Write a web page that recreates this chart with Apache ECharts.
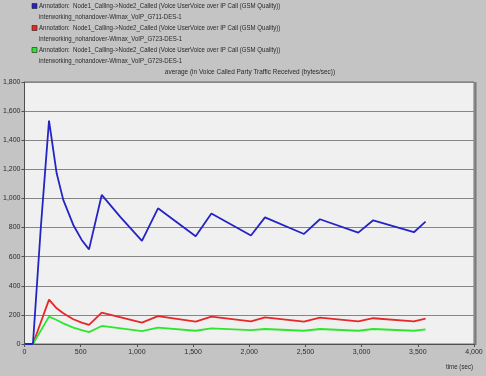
<!DOCTYPE html>
<html>
<head>
<meta charset="utf-8">
<script src="https://cdn.jsdelivr.net/npm/echarts@6/dist/echarts.min.js"></script>
<style>
html,body{margin:0;padding:0;background:#c4c4c4;}
#chart{width:486px;height:376px;}
</style>
</head>
<body>
<div id="chart"></div>
<script>
// time (sec) sample points and values (bytes/sec)
const blueTimes = [0, 75, 145, 218, 286, 345, 434, 509, 574, 687, 850, 1045, 1188, 1523, 1663, 2015, 2140, 2487, 2629, 2970, 3103, 3465, 3569];
const blueValues = [0, 0, 800, 1535, 1173, 990, 818, 715, 650, 1024, 875, 708, 932, 740, 896, 745, 870, 756, 857, 765, 850, 768, 841];

const redTimes = [0, 75, 218, 286, 345, 434, 509, 574, 687, 1045, 1188, 1523, 1663, 2015, 2140, 2487, 2629, 2970, 3103, 3465, 3569];
const redValues = [0, 0, 305, 245, 211, 170, 147, 131, 215, 147, 192, 153, 188, 155, 183, 153, 181, 156, 177, 156, 174];

const greenTimes = [0, 75, 218, 286, 345, 434, 509, 574, 687, 1045, 1188, 1523, 1663, 2015, 2140, 2487, 2629, 2970, 3103, 3465, 3569];
const greenValues = [0, 0, 188, 165, 142, 112, 96, 82, 124, 89, 112, 91, 108, 95, 103, 91, 103, 91, 103, 91, 101];

const seriesNames = ['G711', 'G723', 'G729'];
const legendLine1 = 'Annotation:  Node1_Calling->Node2_Called (Voice UserVoice over IP Call (GSM Quality))';
const legendLine2 = [
  'interworking_nohandover-Wimax_VoIP_G711-DES-1',
  'interworking_nohandover-Wimax_VoIP_G723-DES-1',
  'interworking_nohandover-Wimax_VoIP_G729-DES-1'
];
const colors = ['#2424c4', '#e62828', '#2ee62e'];
const chartTitle = 'average (in Voice Called Party Traffic Received (bytes/sec))';
const xAxisName = 'time (sec)';

const FONT = '"Liberation Sans", Arial, sans-serif';

function pairs(t, v){ return t.map((x,i)=>[x, v[i]]); }
function fmt(v){ return v.toLocaleString('en-US'); }

const chart = echarts.init(document.getElementById('chart'), null, {renderer:'canvas'});

const legendGraphics = [];
for (let i = 0; i < 3; i++) {
  const y0 = 2 + i * 22;
  legendGraphics.push({
    type:'rect', shape:{x:32, y:y0+1.5, width:5, height:5},
    style:{fill:colors[i], stroke:'#222', lineWidth:0.6}
  });
  legendGraphics.push({
    type:'text', x:39, y:y0, scaleX:0.81,
    style:{text:legendLine1, font:'7.5px ' + FONT, fill:'#2a2a2a'}
  });
  legendGraphics.push({
    type:'text', x:39, y:y0+11, scaleX:0.81,
    style:{text:legendLine2[i], font:'7.5px ' + FONT, fill:'#2a2a2a'}
  });
}

const option = {
  backgroundColor:'#c4c4c4',
  animation:false,
  grid:{left:24.5, right:12, top:82, bottom:32, show:true, backgroundColor:'#f0f0f0', borderColor:'#6e6e6e', borderWidth:1},
  xAxis:{
    type:'value', min:0, max:4000, interval:500,
    axisLine:{show:true, lineStyle:{color:'#505050', width:1}},
    axisTick:{show:true, length:3, lineStyle:{color:'#505050'}},
    axisLabel:{margin:5, fontSize:7, fontFamily:FONT, color:'#2a2a2a', formatter:fmt},
    splitLine:{show:false}
  },
  yAxis:{
    type:'value', min:0, max:1800, interval:200,
    axisLine:{show:true, lineStyle:{color:'#505050', width:1}},
    axisTick:{show:true, length:3, lineStyle:{color:'#505050'}},
    axisLabel:{margin:4, fontSize:7, fontFamily:FONT, color:'#2a2a2a', formatter:fmt},
    splitLine:{show:true, lineStyle:{color:'#858585', width:1}}
  },
  series:[
    {name:seriesNames[0], type:'line', data:pairs(blueTimes, blueValues), showSymbol:false, lineStyle:{color:colors[0], width:1.8}, itemStyle:{color:colors[0]}, z:3},
    {name:seriesNames[1], type:'line', data:pairs(redTimes, redValues), showSymbol:false, lineStyle:{color:colors[1], width:1.8}, itemStyle:{color:colors[1]}, z:2},
    {name:seriesNames[2], type:'line', data:pairs(greenTimes, greenValues), showSymbol:false, lineStyle:{color:colors[2], width:1.8}, itemStyle:{color:colors[2]}, z:2}
  ],
  graphic:[
    ...legendGraphics,
    {type:'text', x:250, y:68, scaleX:0.86, style:{text:chartTitle, font:'7.5px ' + FONT, fill:'#2a2a2a', textAlign:'center'}},
    {type:'text', x:473, y:363, scaleX:0.82, style:{text:xAxisName, font:'7.5px ' + FONT, fill:'#2a2a2a', textAlign:'right'}},
    {type:'line', shape:{x1:475.5, y1:82, x2:475.5, y2:345}, style:{stroke:'#7a7a7a', lineWidth:2}}
  ]
};
chart.setOption(option);
</script>
</body>
</html>
